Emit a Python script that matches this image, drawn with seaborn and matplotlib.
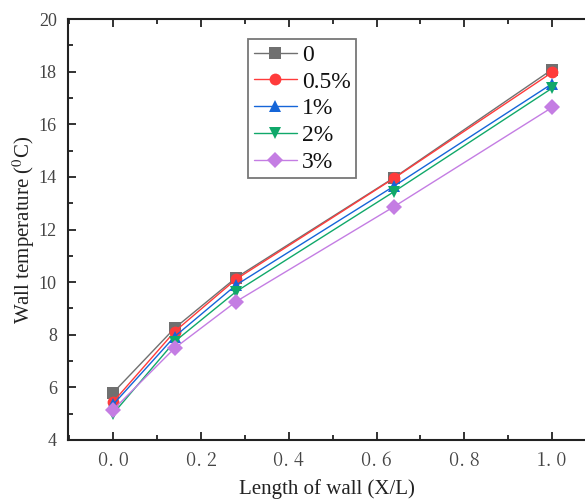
import numpy as np
import pandas as pd
import matplotlib
matplotlib.use("Agg")
import matplotlib.pyplot as plt
import seaborn as sns
from matplotlib.ticker import MultipleLocator

# ---- data ----
x_pos = [0.0, 0.14, 0.28, 0.64, 1.0]
series_names = ["0", "0.5%", "1%", "2%", "3%"]
y_0 = [5.80, 8.25, 10.17, 13.97, 18.08]
y_05 = [5.45, 8.12, 10.11, 13.95, 17.97]
y_1 = [5.35, 7.93, 9.89, 13.65, 17.54]
y_2 = [5.00, 7.74, 9.64, 13.44, 17.37]
y_3 = [5.15, 7.49, 9.26, 12.87, 16.64]
colors = ["#707070", "#FF3B3B", "#1565D8", "#10A86A", "#C47DE3"]
markers = ["s", "o", "^", "v", "D"]
x_ticks = [0.0, 0.2, 0.4, 0.6, 0.8, 1.0]
x_tick_labels = ["0. 0", "0. 2", "0. 4", "0. 6", "0. 8", "1. 0"]
y_ticks = [4, 6, 8, 10, 12, 14, 16, 18, 20]

rows = []
for name, ys in zip(series_names, [y_0, y_05, y_1, y_2, y_3]):
    for xv, yv in zip(x_pos, ys):
        rows.append({"x": xv, "y": yv, "series": name})
df = pd.DataFrame(rows)

sns.set_style("ticks")
plt.rcParams["font.family"] = ["Liberation Serif", "DejaVu Serif"]
plt.rcParams["mathtext.fontset"] = "stix"

fig = plt.figure(figsize=(5.85, 5.0), dpi=100)
ax = fig.add_axes([0.1162, 0.12, 0.8838, 0.842])

sns.lineplot(data=df, x="x", y="y", hue="series", style="series",
             hue_order=series_names, style_order=series_names,
             palette=colors, markers=markers, dashes=False,
             markersize=8.5, linewidth=1.0, markeredgewidth=0,
             ax=ax, legend=True)

ax.set_xlim(-0.103, 1.075)
ax.set_ylim(4, 20)
ax.set_xticks(x_ticks)
ax.set_xticklabels(x_tick_labels)
ax.set_yticks(y_ticks)
ax.xaxis.set_minor_locator(MultipleLocator(0.1))
ax.yaxis.set_minor_locator(MultipleLocator(1))
ax.tick_params(which="both", direction="in", top=True, right=False,
               width=1.3, colors="#222222", labelcolor="#444444")
ax.tick_params(which="major", length=6, labelsize=13, pad=8)
ax.tick_params(which="minor", length=3.5)
for lab in ax.get_xticklabels():
    lab.set_fontfamily(["Noto Serif CJK SC", "Liberation Serif", "DejaVu Serif"])
for sp in ax.spines.values():
    sp.set_linewidth(1.5)
    sp.set_color("#222222")
ax.spines["right"].set_visible(False)

ax.set_xlabel("Length of wall (X/L)", fontsize=15, color="#222222", labelpad=6)
ax.set_ylabel(r"Wall temperature ($^{0}$C)", fontsize=15, color="#222222", labelpad=1)

leg = ax.legend(loc="upper left", bbox_to_anchor=(0.349, 0.952),
                prop={"family": "Liberation Serif", "size": 17},
                frameon=True, fancybox=False, edgecolor="#555555",
                handlelength=1.85, handletextpad=0.2, labelspacing=0.22,
                borderpad=0.22, borderaxespad=0)
leg.get_frame().set_linewidth(1.3)
for t in leg.get_texts():
    t.set_color("#111111")

fig.savefig("out.png", dpi=100)
